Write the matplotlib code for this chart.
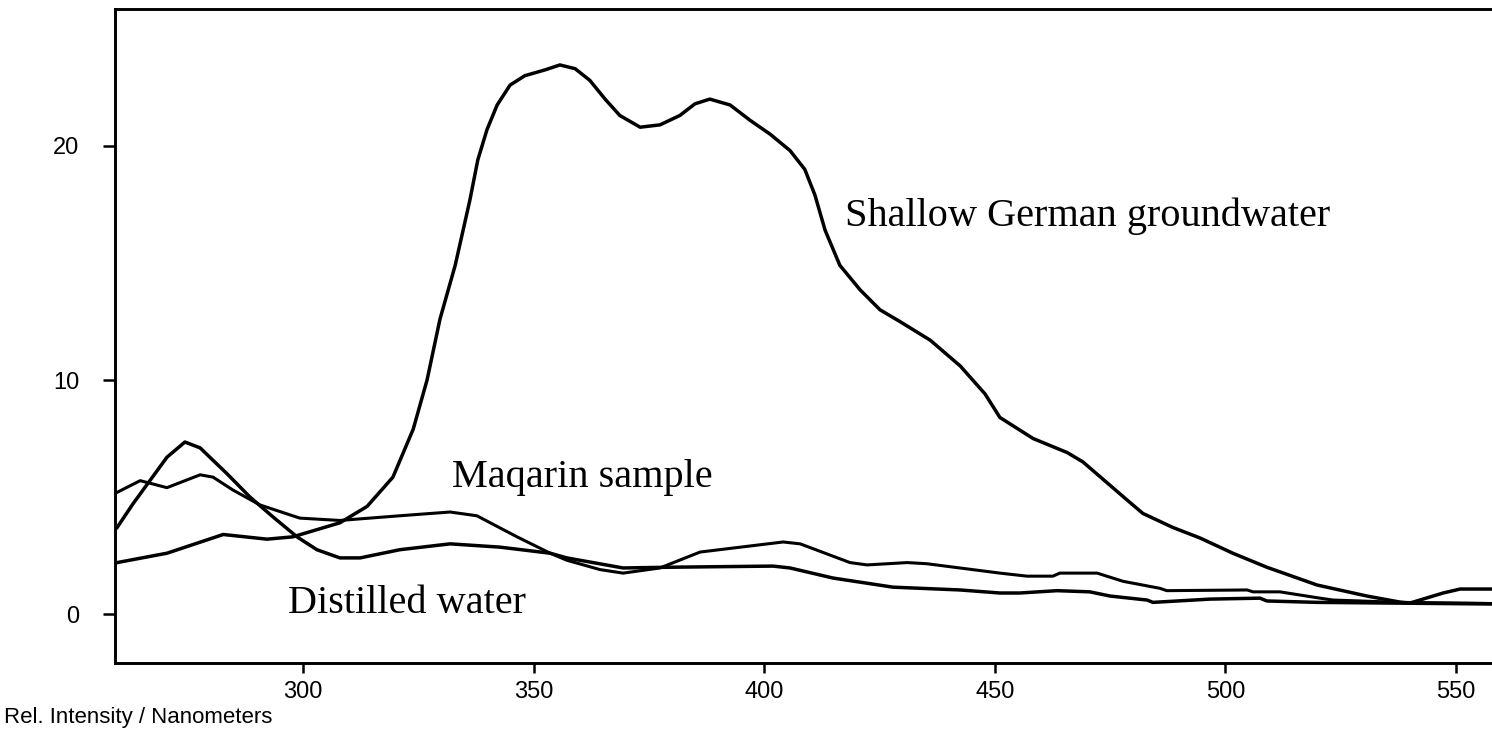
import matplotlib.pyplot as plt

# Fluorescence spectra, wavelength (nm) vs relative intensity
gw_nm = [259.7, 270.5, 282.7, 292.2, 297.8, 308.0, 313.9, 319.5, 323.9, 326.9,
         329.7, 333.0, 336.2, 337.9, 339.9, 342.1, 344.9, 348.1, 352.5, 355.7,
         359.0, 362.2, 365.5, 368.7, 373.1, 377.4, 381.7, 385.0, 388.2, 392.6,
         396.9, 401.3, 405.6, 408.8, 411.0, 413.2, 416.4, 420.8, 425.1, 429.4,
         436.0, 442.5, 447.9, 451.1, 458.3, 465.7, 469.1, 478.7, 482.1, 488.6,
         494.5, 501.6, 509.0, 519.9, 530.7, 537.9, 540.0, 547.2, 550.9, 557.8]
gw_val = [2.2, 2.6, 3.4, 3.2, 3.3, 3.9, 4.6, 5.85, 7.9, 10.0,
          12.6, 14.9, 17.7, 19.4, 20.7, 21.75, 22.6, 23.0, 23.25, 23.46,
          23.3, 22.8, 22.0, 21.3, 20.8, 20.9, 21.3, 21.8, 22.0, 21.75,
          21.1, 20.5, 19.8, 19.0, 17.9, 16.4, 14.9, 13.85, 13.0, 12.5,
          11.7, 10.6, 9.4, 8.4, 7.5, 6.9, 6.5, 4.87, 4.3, 3.7,
          3.25, 2.6, 2.0, 1.24, 0.77, 0.51, 0.47, 0.9, 1.07, 1.07]

maq_nm = [259.7, 264.7, 270.5, 277.7, 280.5, 284.8, 290.7, 299.3, 308.0, 321.0,
          331.9, 337.7, 346.4, 353.6, 357.2, 364.4, 369.4, 377.4, 386.1, 404.1,
          407.8, 418.6, 422.3, 431.0, 435.3, 451.1, 457.0, 462.6, 464.1, 472.2,
          477.8, 485.8, 487.3, 504.7, 506.0, 511.8, 520.5, 523.3, 537.9, 552.4,
          557.8]
maq_val = [5.2, 5.7, 5.4, 5.95, 5.85, 5.3, 4.66, 4.1, 4.0, 4.2,
           4.36, 4.2, 3.3, 2.6, 2.3, 1.9, 1.75, 1.97, 2.65, 3.08,
           3.0, 2.2, 2.1, 2.2, 2.15, 1.75, 1.62, 1.62, 1.75, 1.75,
           1.4, 1.1, 1.0, 1.03, 0.95, 0.95, 0.68, 0.6, 0.5, 0.47,
           0.45]

dist_nm = [259.7, 263.1, 270.5, 274.4, 277.7, 283.5, 288.5, 293.5, 298.7, 303.0,
           308.0, 312.4, 321.0, 331.9, 342.7, 353.6, 357.2, 369.4, 378.9, 401.9,
           405.6, 414.9, 427.9, 442.5, 451.1, 455.4, 463.5, 470.6, 475.0, 483.0,
           484.3, 496.7, 507.5, 509.0, 519.9, 557.8]
dist_val = [3.7, 4.7, 6.7, 7.35, 7.1, 6.0, 5.0, 4.15, 3.3, 2.75,
            2.4, 2.4, 2.75, 3.0, 2.86, 2.6, 2.4, 1.97, 2.0, 2.05,
            1.97, 1.54, 1.15, 1.03, 0.9, 0.9, 1.0, 0.95, 0.77, 0.6,
            0.5, 0.64, 0.68, 0.56, 0.5, 0.43]

x_ticks = [300, 350, 400, 450, 500, 550]
y_ticks = [0, 10, 20]

fig = plt.figure(figsize=(14.92, 7.38), dpi=100)
ax = fig.add_axes([0.07708, 0.10163, 0.92292, 0.88618])

ax.plot(gw_nm, gw_val, color='black', lw=2.5, solid_joinstyle='round')
ax.plot(maq_nm, maq_val, color='black', lw=2.2, solid_joinstyle='round')
ax.plot(dist_nm, dist_val, color='black', lw=2.5, solid_joinstyle='round')

ax.set_xlim(259.24, 557.8)
ax.set_ylim(-2.09, 25.85)

ax.spines['right'].set_visible(False)
for side in ['left', 'bottom', 'top']:
    ax.spines[side].set_linewidth(2.1)

ax.set_xticks(x_ticks)
ax.set_yticks(y_ticks)
ax.tick_params(axis='x', length=7, width=1.8, pad=6, labelsize=17)
ax.tick_params(axis='y', length=8.6, width=1.8, pad=17, labelsize=17)
for lab in ax.get_xticklabels() + ax.get_yticklabels():
    lab.set_family('Liberation Sans')

serif = dict(family='Liberation Serif', fontsize=29, va='baseline', ha='left')
ax.text(417.5, 16.6, 'Shallow German groundwater', **serif)
ax.text(332.3, 5.43, 'Maqarin sample', **serif)
ax.text(296.7, 0.04, 'Distilled water', **serif)

fig.text(0.003, 1 - 718 / 738, 'Rel. Intensity / Nanometers',
         family='Liberation Sans', fontsize=16, va='center', ha='left')

fig.savefig('out.png', dpi=100)
